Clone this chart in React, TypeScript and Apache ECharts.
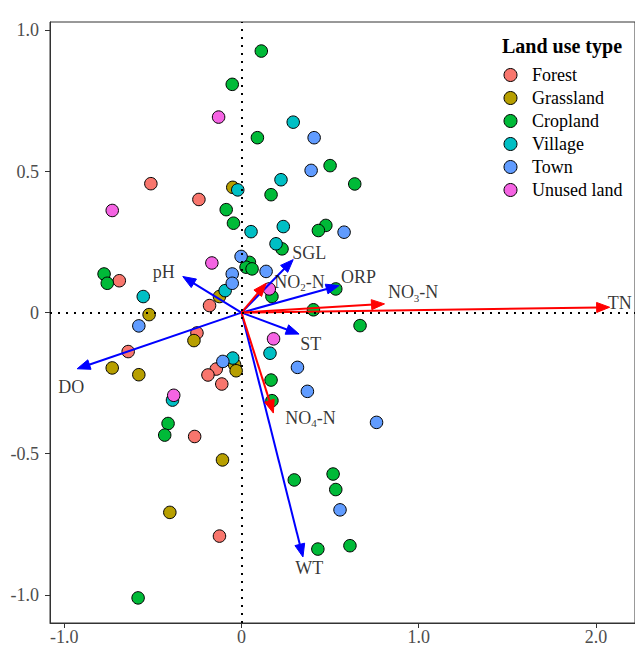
import React, { useEffect, useRef } from 'react';
import * as echarts from 'echarts';

const FONT = 'Liberation Serif';

const landUseTypes = ['Forest', 'Grassland', 'Cropland', 'Village', 'Town', 'Unused land'];
const typeColors = ['#F8766D', '#B79F00', '#00BA38', '#00BFC4', '#619CFF', '#F564E3'];

const forestPts = [
  [-0.511, 0.457], [-0.240, 0.401], [-0.689, 0.113], [-0.180, 0.025], [-0.251, -0.072],
  [-0.639, -0.138], [-0.142, -0.200], [-0.189, -0.221], [-0.111, -0.253], [-0.264, -0.439],
  [-0.124, -0.792],
];
const grasslandPts = [
  [-0.049, 0.444], [-0.124, 0.057], [-0.521, -0.007], [-0.268, -0.099], [-0.729, -0.196],
  [-0.579, -0.220], [-0.039, -0.184], [-0.030, -0.206], [-0.107, -0.522], [-0.404, -0.708],
];
const croplandPts = [
  [0.112, 0.927], [-0.052, 0.809], [0.090, 0.620], [0.500, 0.521], [0.639, 0.456],
  [0.167, 0.418], [-0.086, 0.365], [-0.045, 0.317], [0.476, 0.309], [0.434, 0.291],
  [0.229, 0.226], [0.045, 0.178], [0.026, 0.161], [0.060, 0.155], [0.172, 0.057],
  [0.532, 0.084], [0.406, 0.010], [0.669, -0.046], [-0.775, 0.137], [-0.757, 0.104],
  [0.167, -0.239], [0.172, -0.312], [-0.414, -0.393], [-0.433, -0.434], [-0.583, -1.011],
  [0.298, -0.593], [0.517, -0.572], [0.532, -0.627], [0.431, -0.838], [0.612, -0.826],
];
const villagePts = [
  [-0.021, 0.435], [0.292, 0.675], [0.223, 0.471], [0.054, 0.287], [0.236, 0.305],
  [0.195, 0.244], [-0.092, 0.078], [-0.554, 0.057], [0.161, -0.144], [-0.049, -0.161],
  [-0.389, -0.310],
];
const townPts = [
  [0.410, 0.620], [0.393, 0.504], [0.579, 0.285], [-0.002, 0.199], [-0.052, 0.137],
  [-0.052, 0.104], [0.139, 0.146], [-0.579, -0.047], [-0.105, -0.173], [0.316, -0.194],
  [0.372, -0.279], [0.762, -0.389], [0.556, -0.699],
];
const unusedPts = [
  [-0.129, 0.693], [-0.729, 0.362], [-0.167, 0.176], [0.157, 0.084], [0.181, -0.093],
  [-0.382, -0.293],
];
const siteData = [forestPts, grasslandPts, croplandPts, villagePts, townPts, unusedPts];

// environmental vectors (arrow tips)
const envNames = ['WT', 'DO', 'pH', 'ST', 'ORP', 'SGL', 'TN', 'NO3-N', 'NO2-N', 'NO4-N'];
const envX = [0.347, -0.927, -0.331, 0.325, 0.551, 0.292, 2.077, 0.807, 0.139, 0.180];
const envY = [-0.866, -0.199, 0.128, -0.076, 0.096, 0.188, 0.019, 0.031, 0.104, -0.356];
const envIsNitrogen = [0, 0, 0, 0, 0, 0, 1, 1, 1, 1];
// label anchors (left edge, vertical middle) in data units
const envLabelX = [0.303, -1.034, -0.5, 0.331, 0.562, 0.287, 2.066, 0.826, 0.185, 0.247];
const envLabelY = [-0.908, -0.268, 0.142, -0.113, 0.121, 0.209, 0.032, 0.068, 0.106, -0.376];

const xTicks = [-1, 0, 1, 2];
const yTicks = [-1, -0.5, 0, 0.5, 1];

const richLabel = (name: string) => {
  const m = name.match(/^NO(\d)-N$/);
  if (m) return `{n|NO}{s|${m[1]}}{n|-N}`;
  return `{n|${name}}`;
};

const fmt = (v: number) => (v === 0 ? '0' : v.toFixed(1));

export default function App() {
  const ref = useRef<HTMLDivElement>(null);
  useEffect(() => {
    if (!ref.current) return;
    const chart = echarts.init(ref.current, undefined, { renderer: 'svg' });

    const scatterSeries = landUseTypes.map((name, i) => ({
      name,
      type: 'scatter',
      z: 2,
      data: siteData[i],
      symbol: 'circle',
      symbolSize: 12.5,
      itemStyle: { color: typeColors[i], borderColor: '#000', borderWidth: 1, opacity: 1 },
      emphasis: { disabled: true },
    }));

    const arrowData = envNames.map((n, i) => [envX[i], envY[i], envIsNitrogen[i]]);

    const option: any = {
      animation: false,
      backgroundColor: '#fff',
      textStyle: { fontFamily: FONT },
      title: {
        text: 'Land use type',
        left: 502,
        top: 36,
        padding: 0,
        textStyle: { fontFamily: FONT, fontWeight: 'bold', fontSize: 20, color: '#000' },
      },
      legend: {
        data: landUseTypes,
        orient: 'vertical',
        left: 503.5,
        top: 66,
        padding: 0,
        itemWidth: 33,
        itemHeight: 13,
        itemGap: 5,
        icon: 'circle',
        selectedMode: false,
        textStyle: { fontFamily: FONT, fontSize: 18, color: '#000', lineHeight: 18 },
        itemStyle: { borderColor: '#000', borderWidth: 1 },
      },
      grid: {
        left: 50,
        right: -2,
        top: 22,
        bottom: 27,
        show: true,
        borderColor: '#333',
        borderWidth: 1,
        backgroundColor: 'transparent',
      },
      xAxis: {
        type: 'value',
        min: -1.08,
        max: 2.22,
        axisLine: { show: true, onZero: false, lineStyle: { color: '#333', width: 1 } },
        axisTick: { show: true, customValues: xTicks, length: 5, lineStyle: { color: '#333' } },
        axisLabel: {
          customValues: xTicks,
          formatter: (v: number) => fmt(v),
          fontFamily: FONT,
          fontSize: 18,
          color: '#4D4D4D',
          margin: 5,
        },
        splitLine: { show: false },
      },
      yAxis: {
        type: 'value',
        min: -1.1,
        max: 1.03,
        axisLine: { show: true, onZero: false, lineStyle: { color: '#333', width: 1 } },
        axisTick: { show: true, customValues: yTicks, length: 5, lineStyle: { color: '#333' } },
        axisLabel: {
          customValues: yTicks,
          formatter: (v: number) => fmt(v),
          fontFamily: FONT,
          fontSize: 18,
          color: '#4D4D4D',
          margin: 11,
        },
        splitLine: { show: false },
      },
      series: [
        {
          type: 'scatter',
          z: 1,
          data: [],
          markLine: {
            silent: true,
            symbol: 'none',
            label: { show: false },
            lineStyle: { color: '#000', type: [2, 6], width: 2 },
            emphasis: { disabled: true },
            data: [{ xAxis: 0 }, { yAxis: 0 }],
          },
        },
        ...scatterSeries,
        {
          type: 'custom',
          z: 3,
          data: arrowData,
          encode: { x: 0, y: 1 },
          renderItem: (params: any, api: any) => {
            const o = api.coord([0, 0]);
            const t = api.coord([api.value(0), api.value(1)]);
            const dx = t[0] - o[0];
            const dy = t[1] - o[1];
            const len = Math.hypot(dx, dy) || 1;
            const ux = dx / len;
            const uy = dy / len;
            const L = 13;
            const W = 5;
            const bx = t[0] - ux * L;
            const by = t[1] - uy * L;
            const color = api.value(2) === 1 ? '#FF0000' : '#0000FF';
            return {
              type: 'group',
              children: [
                {
                  type: 'line',
                  shape: { x1: o[0], y1: o[1], x2: bx + ux * 2, y2: by + uy * 2 },
                  style: { stroke: color, lineWidth: 2 },
                },
                {
                  type: 'polygon',
                  shape: {
                    points: [
                      [t[0], t[1]],
                      [bx - uy * W, by + ux * W],
                      [bx + uy * W, by - ux * W],
                    ],
                  },
                  style: { fill: color, stroke: color, lineWidth: 1 },
                },
              ],
            };
          },
        },
        {
          type: 'scatter',
          z: 4,
          symbolSize: 0,
          silent: true,
          data: envNames.map((n, i) => ({ name: n, value: [envLabelX[i], envLabelY[i]] })),
          label: {
            show: true,
            position: 'right',
            distance: 0,
            formatter: (p: any) => richLabel(p.name),
            rich: {
              n: { fontFamily: FONT, fontSize: 18, color: '#000', lineHeight: 20, verticalAlign: 'top' },
              s: {
                fontFamily: FONT,
                fontSize: 11,
                color: '#000',
                lineHeight: 11,
                padding: [9, 0, 0, 0],
                verticalAlign: 'top',
              },
            },
          },
        },
      ],
    };
    chart.setOption(option);
    return () => chart.dispose();
  }, []);
  return (
    <div
      ref={ref}
      style={{ position: 'fixed', left: 0, top: 0, width: 635, height: 650 }}
    />
  );
}
